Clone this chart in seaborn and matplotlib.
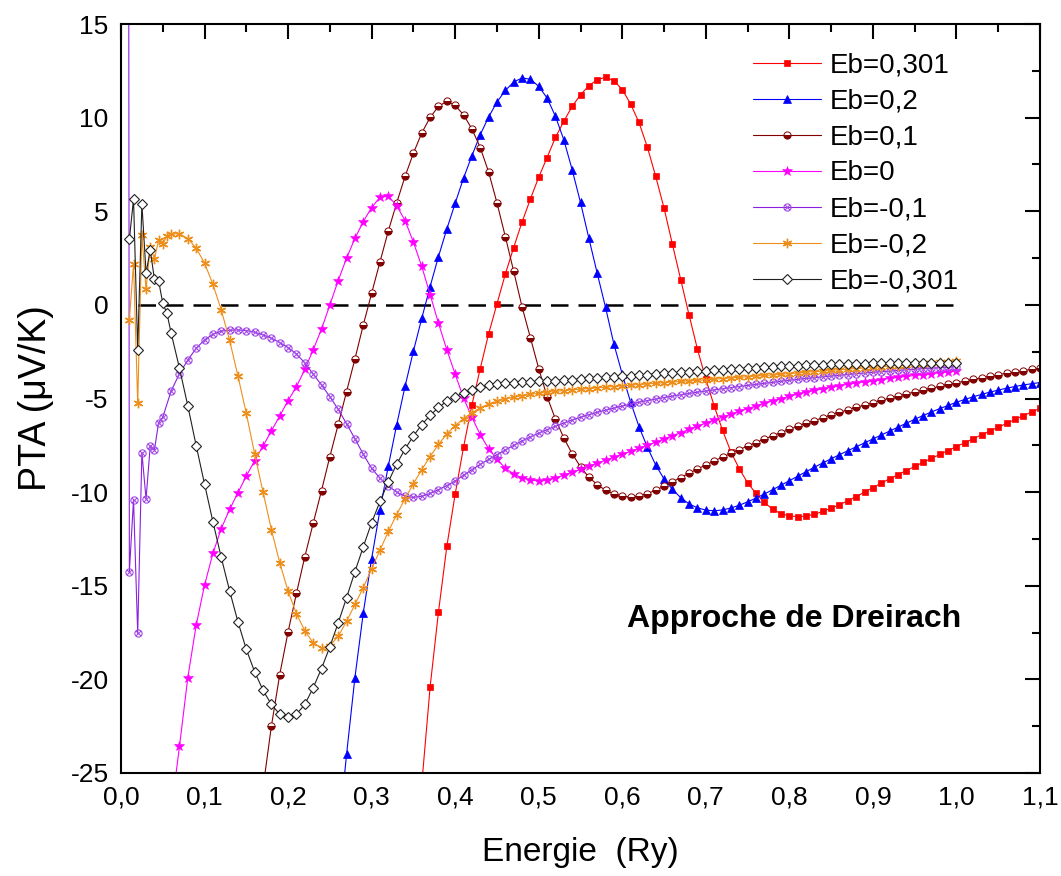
import numpy as np
import pandas as pd
import matplotlib
matplotlib.use("Agg")
import matplotlib.pyplot as plt
from matplotlib.path import Path
from matplotlib.ticker import MultipleLocator, FuncFormatter
import seaborn as sns

# ---------------- data ----------------
energy_start = [0.01, 0.015, 0.02, 0.025, 0.03, 0.035, 0.04, 0.045, 0.05, 0.055]
energy_start_purple = [0.005, 0.01, 0.015, 0.02, 0.025, 0.03, 0.035, 0.04, 0.045, 0.05]

x_eb0301 = np.round(np.arange(0.36, 1.1001, 0.01), 2)
y_eb0301 = [-25.6, -20.4, -16.4, -12.9,
            -10.1, -7.6, -5.35, -3.4, -1.55, 0.05, 1.64, 3.06, 4.42, 5.65,
            6.82, 7.87, 8.94, 9.8, 10.6, 11.22, 11.7, 12.03, 12.15, 11.97,
            11.5, 10.73, 9.74, 8.43, 6.86, 5.17, 3.24, 1.34, -0.55, -2.37,
            -3.96, -5.4, -6.7, -7.85, -8.75, -9.5, -10.07, -10.55, -10.92, -11.15,
            -11.27, -11.31, -11.28, -11.18, -11.03, -10.86, -10.67, -10.46, -10.24, -10.0,
            -9.76, -9.52, -9.29, -9.07, -8.85, -8.63, -8.41, -8.2, -7.99, -7.78,
            -7.57, -7.36, -7.15, -6.94, -6.74, -6.53, -6.33, -6.12, -5.92, -5.72, -5.52]

x_eb02 = np.round(np.arange(0.26, 1.1001, 0.01), 2)
y_eb02 = [-28.5, -24.0, -19.9, -16.45,
          -13.55, -10.95, -8.6, -6.4, -4.35, -2.47, -0.72, 0.98, 2.58, 4.05,
          5.43, 6.77, 7.96, 9.09, 10.03, 10.83, 11.45, 11.9, 12.12, 12.05,
          11.67, 11.05, 10.07, 8.82, 7.22, 5.47, 3.56, 1.69, -0.14, -2.1,
          -3.7, -5.2, -6.5, -7.6, -8.55, -9.3, -9.85, -10.3, -10.63, -10.84,
          -10.96, -11.0, -10.95, -10.85, -10.7, -10.52, -10.32, -10.1, -9.87, -9.63,
          -9.39, -9.15, -8.91, -8.67, -8.44, -8.22, -8.0, -7.79, -7.58, -7.37,
          -7.16, -6.95, -6.74, -6.53, -6.32, -6.11, -5.91, -5.72, -5.54, -5.37,
          -5.2, -5.05, -4.91, -4.78, -4.66, -4.55, -4.45, -4.36, -4.28, -4.21, -4.15]

x_eb01 = np.round(np.arange(0.17, 1.1001, 0.01), 2)
y_eb01 = [-25.8, -22.5, -19.74,
          -17.46, -15.41, -13.45, -11.67, -9.92, -8.1, -6.38, -4.63, -2.89, -1.07,
          0.62, 2.3, 3.95, 5.45, 6.86, 8.1, 9.18, 10.01, 10.6, 10.87,
          10.65, 10.15, 9.4, 8.4, 7.1, 5.45, 3.65, 1.8, -0.1, -1.75,
          -3.4, -4.9, -6.1, -7.1, -7.95, -8.65, -9.2, -9.6, -9.9, -10.1,
          -10.22, -10.25, -10.2, -10.08, -9.9, -9.68, -9.45, -9.22, -8.99, -8.77,
          -8.55, -8.34, -8.13, -7.93, -7.73, -7.54, -7.35, -7.17, -6.99, -6.82,
          -6.65, -6.49, -6.33, -6.18, -6.03, -5.88, -5.74, -5.6, -5.47, -5.35,
          -5.22, -5.1, -4.98, -4.87, -4.76, -4.65, -4.55, -4.45, -4.35, -4.25,
          -4.16, -4.07, -3.98, -3.89, -3.81, -3.73, -3.65, -3.58, -3.51, -3.44, -3.38]

x_eb0 = np.round(np.arange(0.06, 1.0001, 0.01), 2)
y_eb0 = [-27.1, -23.57, -19.9, -17.1,
         -14.97, -13.27, -11.95, -10.92, -10.03, -9.14, -8.32, -7.54, -6.73, -5.93,
         -5.11, -4.37, -3.45, -2.4, -1.3, 0.0, 1.3, 2.5, 3.55, 4.45,
         5.2, 5.75, 5.8, 5.3, 4.5, 3.35, 2.05, 0.55, -0.98, -2.4,
         -3.7, -4.97, -6.0, -6.93, -7.68, -8.25, -8.72, -9.03, -9.24, -9.35,
         -9.4, -9.36, -9.25, -9.1, -8.94, -8.78, -8.62, -8.46, -8.3, -8.14,
         -7.98, -7.82, -7.66, -7.5, -7.33, -7.16, -6.99, -6.82, -6.65, -6.48,
         -6.31, -6.15, -5.99, -5.84, -5.69, -5.54, -5.4, -5.26, -5.13, -5.0,
         -4.88, -4.77, -4.67, -4.57, -4.48, -4.39, -4.31, -4.24, -4.17, -4.11,
         -4.05, -3.99, -3.93, -3.87, -3.82, -3.77, -3.72, -3.67, -3.62, -3.58,
         -3.54]

x_ebm01 = energy_start_purple + list(np.round(np.arange(0.06, 1.0001, 0.01), 2))
y_ebm01 = [200.0, -14.25, -10.42, -17.55, -7.89, -10.37, -7.52, -7.75, -6.29, -6.0,
           -4.6, -3.67, -2.94, -2.32,
           -1.87, -1.57, -1.4, -1.35, -1.34, -1.37, -1.46, -1.6, -1.78, -2.01,
           -2.28, -2.62, -3.1, -3.69, -4.28, -4.9, -5.58, -6.35, -7.15, -7.98,
           -8.73, -9.26, -9.67, -10.0, -10.22, -10.28, -10.22, -10.07, -9.87, -9.65,
           -9.4, -9.1, -8.8, -8.52, -8.25, -8.0, -7.75, -7.5, -7.27, -7.05,
           -6.85, -6.66, -6.48, -6.31, -6.15, -6.0, -5.86, -5.74, -5.62, -5.51,
           -5.4, -5.3, -5.2, -5.11, -5.03, -4.95, -4.87, -4.8, -4.73, -4.66,
           -4.6, -4.54, -4.48, -4.42, -4.36, -4.3, -4.25, -4.19, -4.14, -4.08,
           -4.03, -3.98, -3.93, -3.89, -3.84, -3.8, -3.76, -3.72, -3.68, -3.64,
           -3.6, -3.57, -3.54, -3.5, -3.47, -3.44, -3.41, -3.38, -3.36, -3.33,
           -3.3]

x_ebm02 = energy_start + list(np.round(np.arange(0.06, 1.0001, 0.01), 2))
y_ebm02 = [-0.8, 2.2, -5.25, 3.74, 0.84, 3.1, 2.46, 3.45, 3.24, 3.7,
           3.78, 3.8, 3.54, 3.03,
           2.23, 1.1, -0.27, -1.9, -3.8, -5.8, -7.96, -10.0, -12.0, -13.77,
           -15.29, -16.5, -17.4, -18.05, -18.32, -18.2, -17.7, -16.9, -16.0, -15.1,
           -14.1, -13.1, -12.1, -11.2, -10.35, -9.55, -8.8, -8.1, -7.45, -6.9,
           -6.45, -6.07, -5.76, -5.5, -5.3, -5.15, -5.03, -4.93, -4.85, -4.78,
           -4.72, -4.67, -4.62, -4.58, -4.54, -4.5, -4.47, -4.43, -4.4, -4.36,
           -4.33, -4.29, -4.26, -4.22, -4.19, -4.16, -4.12, -4.09, -4.06, -4.03,
           -4.0, -3.97, -3.94, -3.9, -3.87, -3.84, -3.8, -3.77, -3.74, -3.71,
           -3.67, -3.64, -3.6, -3.57, -3.54, -3.5, -3.47, -3.44, -3.4, -3.37,
           -3.34, -3.31, -3.27, -3.24, -3.21, -3.18, -3.14, -3.11, -3.07, -3.03,
           -2.98]

x_ebm0301 = energy_start + list(np.round(np.arange(0.06, 1.0001, 0.01), 2))
y_ebm0301 = [3.5, 5.65, -2.4, 5.4, 1.7, 2.94, 1.37, 1.28, 0.09, -0.45,
             -1.51, -3.38, -5.4, -7.52,
             -9.57, -11.58, -13.49, -15.27, -16.93, -18.4, -19.6, -20.58, -21.34, -21.86,
             -22.0, -21.86, -21.34, -20.45, -19.42, -18.26, -16.98, -15.64, -14.25, -12.92,
             -11.63, -10.5, -9.45, -8.5, -7.7, -7.0, -6.4, -5.9, -5.48, -5.15,
             -4.9, -4.7, -4.53, -4.4, -4.3, -4.22, -4.18, -4.15, -4.12, -4.1,
             -4.08, -4.06, -4.04, -4.02, -3.99, -3.96, -3.93, -3.9, -3.87, -3.84,
             -3.81, -3.78, -3.75, -3.72, -3.69, -3.66, -3.63, -3.6, -3.57, -3.54,
             -3.51, -3.48, -3.46, -3.43, -3.41, -3.38, -3.36, -3.33, -3.31, -3.29,
             -3.27, -3.25, -3.23, -3.21, -3.2, -3.18, -3.17, -3.16, -3.15, -3.14,
             -3.13, -3.12, -3.12, -3.11, -3.11, -3.1, -3.1, -3.09, -3.09, -3.08,
             -3.08]

labels = ["Eb=0,301", "Eb=0,2", "Eb=0,1", "Eb=0", "Eb=-0,1", "Eb=-0,2", "Eb=-0,301"]
x_ticks = [0.0, 0.1, 0.2, 0.3, 0.4, 0.5, 0.6, 0.7, 0.8, 0.9, 1.0, 1.1]
y_ticks = [-25, -20, -15, -10, -5, 0, 5, 10, 15]

# ---------------- style ----------------
sns.set_style("white")
plt.rcParams["font.family"] = ["Liberation Sans", "DejaVu Sans"]
plt.rcParams["axes.linewidth"] = 1.5
plt.rcParams["text.color"] = "black"
plt.rcParams["axes.labelcolor"] = "black"

fig = plt.figure(figsize=(10.61, 8.76), dpi=100)
ax = fig.add_axes([121 / 1061, 1 - 773 / 876, (1040 - 121) / 1061, (773 - 24) / 876])

# circle-with-cross marker
circ = Path.unit_circle()
verts = np.concatenate([circ.vertices, [[-0.7, -0.7], [0.7, 0.7], [-0.7, 0.7], [0.7, -0.7]]])
codes = np.concatenate([circ.codes, [Path.MOVETO, Path.LINETO, Path.MOVETO, Path.LINETO]])
otimes = Path(verts, codes)

series = [
    (x_eb0301, y_eb0301, dict(color="#FF0000", marker="s", markersize=4.3,
                              markerfacecolor="#FF0000", markeredgecolor="#FF0000", markeredgewidth=0.5)),
    (x_eb02, y_eb02, dict(color="#0000FF", marker="^", markersize=5.8,
                          markerfacecolor="#0000FF", markeredgecolor="#0000FF", markeredgewidth=0.5)),
    (x_eb01, y_eb01, dict(color="#800000", marker="o", markersize=5.2, fillstyle="bottom",
                          markerfacecolor="#800000", markerfacecoloralt="white",
                          markeredgecolor="#800000", markeredgewidth=0.7)),
    (x_eb0, y_eb0, dict(color="#FF00FF", marker="*", markersize=7.2,
                        markerfacecolor="#FF00FF", markeredgecolor="#FF00FF", markeredgewidth=0.4)),
    (x_ebm01, y_ebm01, dict(color="#8A1FE0", marker=otimes, markersize=5.2,
                            markerfacecolor="none", markeredgecolor="#A24BE6", markeredgewidth=0.8)),
    (x_ebm02, y_ebm02, dict(color="#EE8E1A", marker=(6, 2, 0), markersize=6.8,
                            markerfacecolor="#EE8E1A", markeredgecolor="#EE8E1A", markeredgewidth=1.0)),
    (x_ebm0301, y_ebm0301, dict(color="#202020", marker="D", markersize=5.0,
                                markerfacecolor="white", markeredgecolor="#202020", markeredgewidth=0.8)),
]

for (xs, ys, kw), lab in zip(series, labels):
    df = pd.DataFrame({"E": list(xs), "PTA": list(ys)})
    sns.lineplot(data=df, x="E", y="PTA", ax=ax, label=lab, estimator=None, sort=True,
                 linewidth=0.8, **kw)

ax.hlines(0, 0.02, 1.0, colors="black", linewidth=1.8, linestyles=(0, (7, 4)), zorder=1)

ax.set_xlim(0, 1.1)
ax.set_ylim(-25, 15)
ax.set_xticks(x_ticks)
ax.set_yticks(y_ticks)
ax.xaxis.set_minor_locator(MultipleLocator(0.05))
ax.yaxis.set_minor_locator(MultipleLocator(2.5))
ax.xaxis.set_major_formatter(FuncFormatter(lambda v, p: f"{v:.1f}".replace(".", ",")))
ax.yaxis.set_major_formatter(FuncFormatter(lambda v, p: f"{int(round(v))}"))
ax.tick_params(which="both", direction="in", top=True, right=True, width=1.5,
               colors="black", labelcolor="black")
ax.tick_params(which="major", length=10.5, labelsize=19, pad=9)
ax.tick_params(which="minor", length=5.5)
for s in ax.spines.values():
    s.set_color("black")
    s.set_linewidth(1.5)

ax.set_xlabel("Energie  (Ry)", fontsize=24, labelpad=20, color="black")
ax.set_ylabel("PTA (\u03bcV/K)", fontsize=27, labelpad=12, color="black")

ax.text(0.606, -16.8, "Approche de Dreirach", fontsize=23, fontweight="bold",
        ha="left", va="center", color="black")

ax.legend(loc="upper left", bbox_to_anchor=(0.688, 0.962), frameon=False, fontsize=20,
          handlelength=2.45, handletextpad=0.32, labelspacing=0.36, borderaxespad=0,
          borderpad=0)

fig.savefig("out.png", dpi=100)
